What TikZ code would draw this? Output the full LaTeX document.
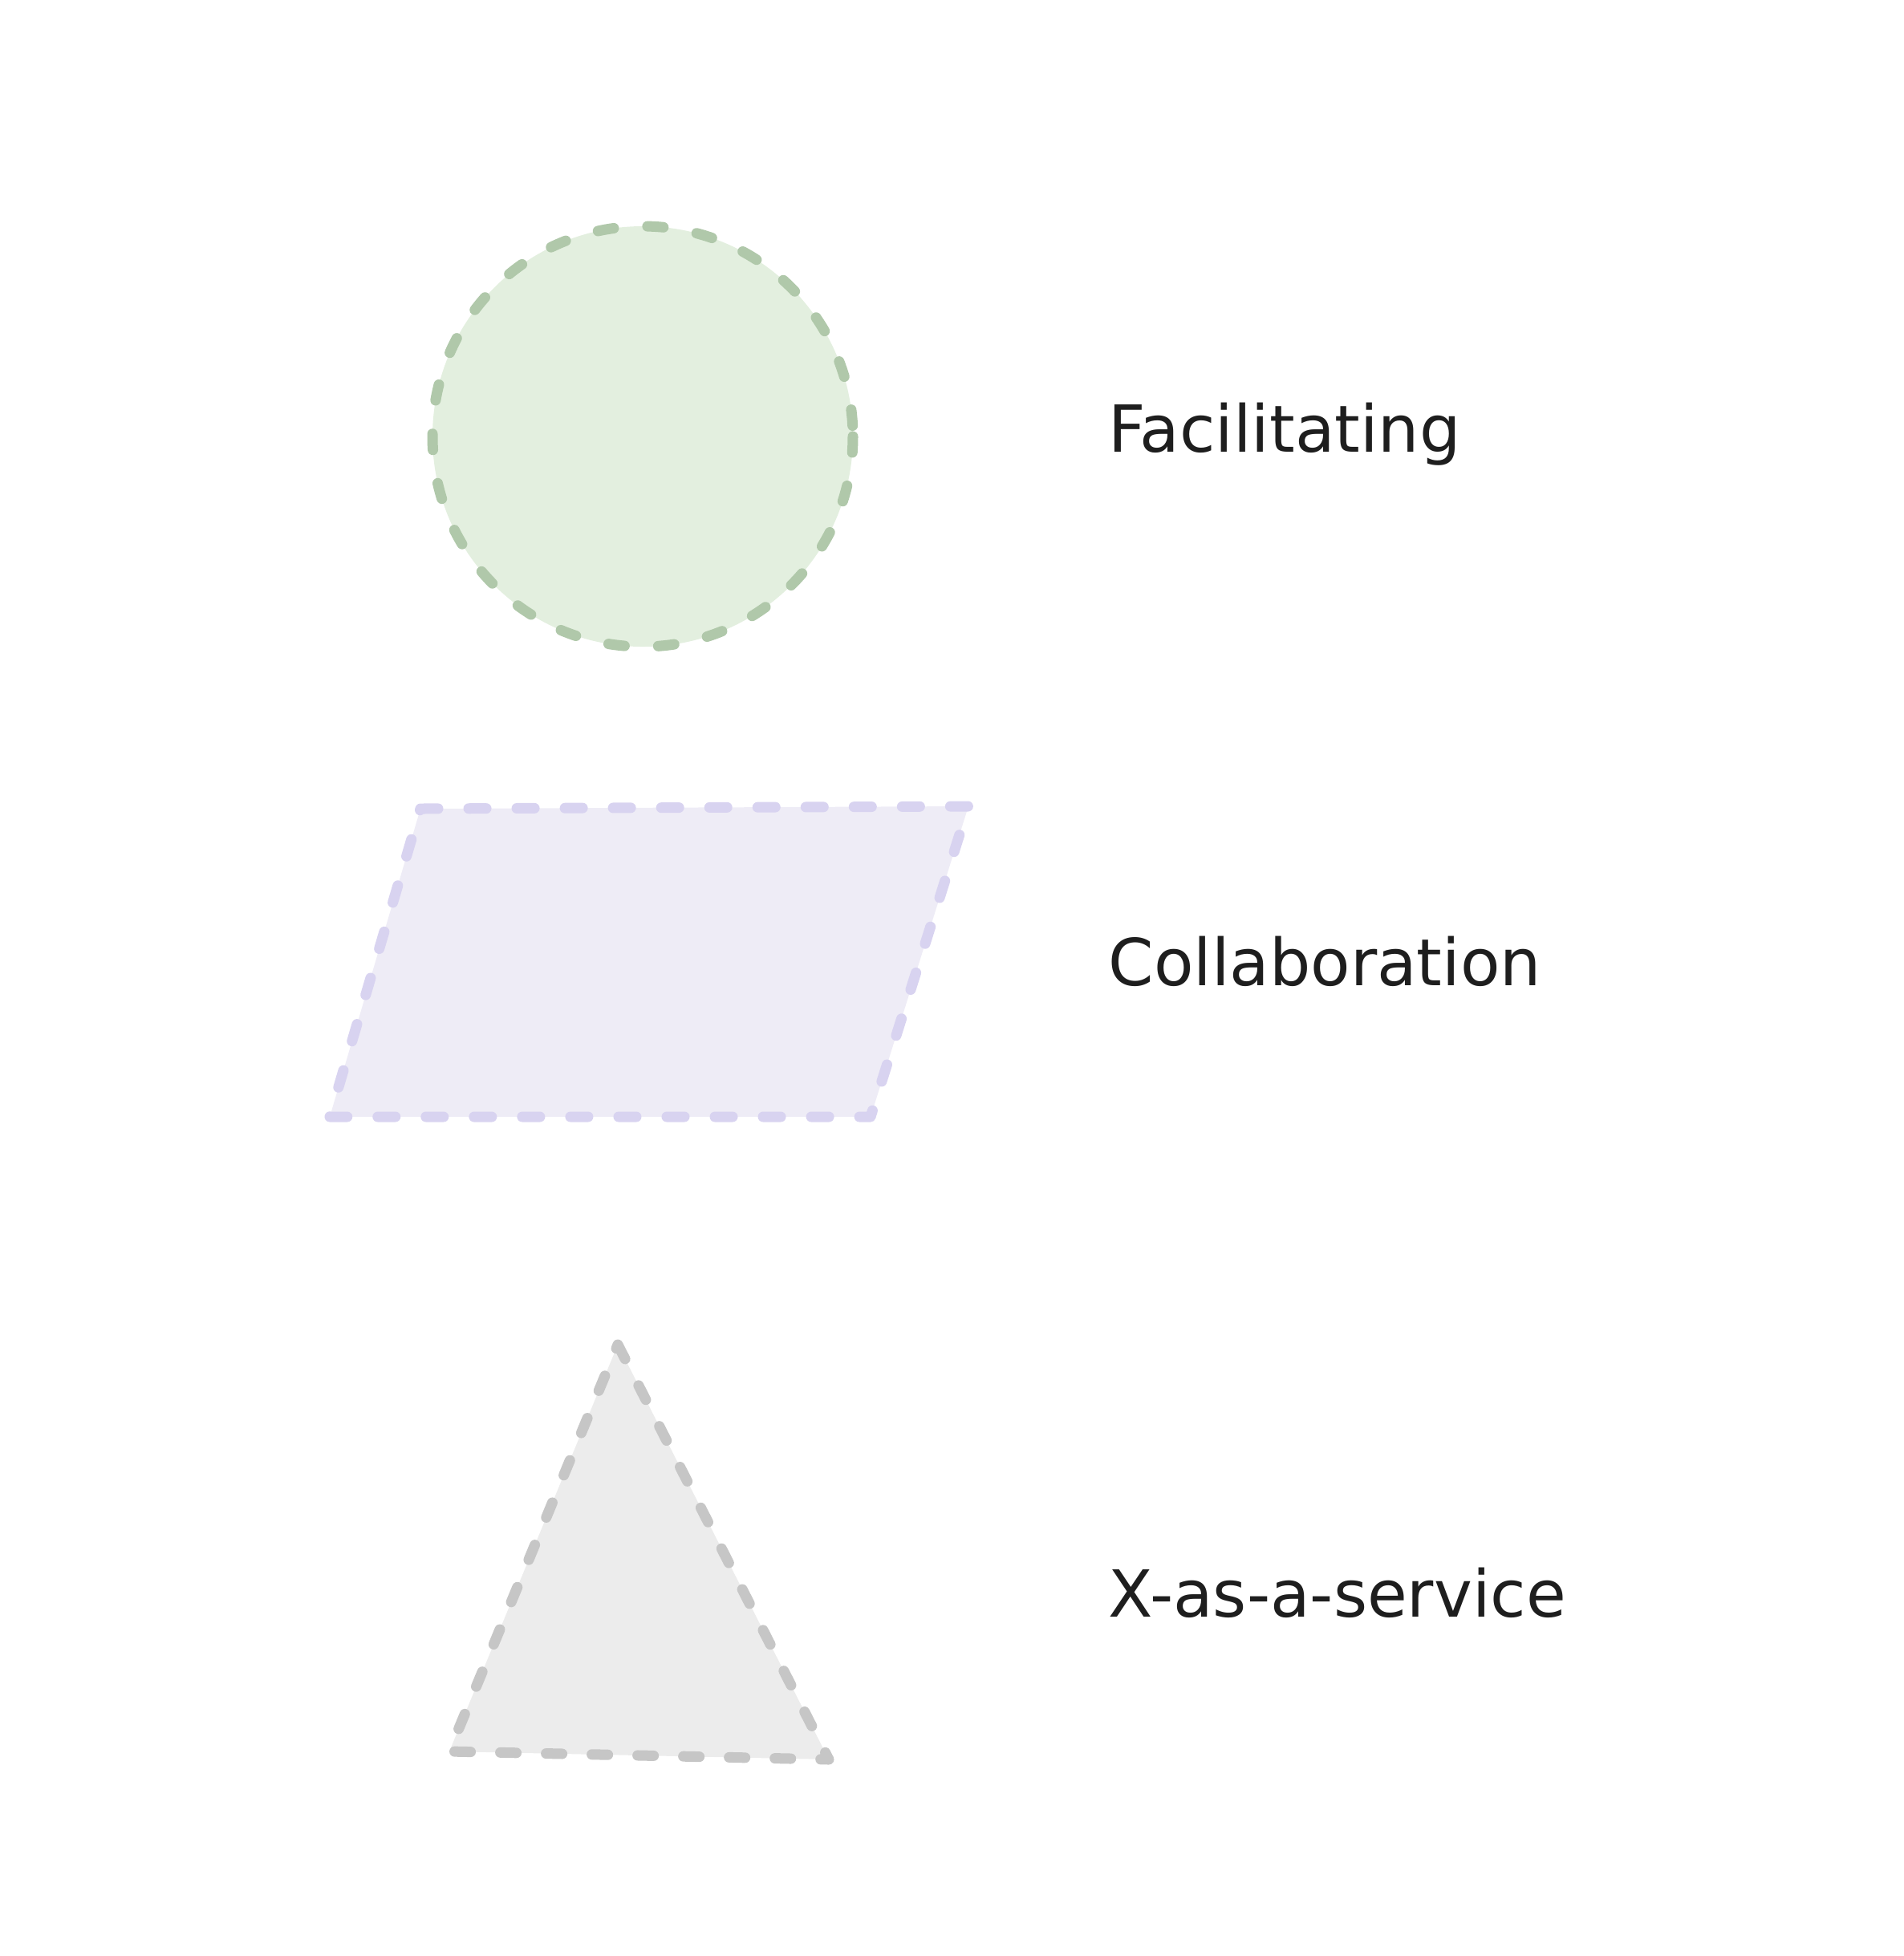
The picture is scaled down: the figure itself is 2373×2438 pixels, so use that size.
\documentclass[tikz,border=0pt]{standalone}
\usepackage{fontspec}
\setmainfont{DejaVu Sans}
\definecolor{gfill}{HTML}{E3EFDF}
\definecolor{gline}{HTML}{B0C8AA}
\definecolor{pfill}{HTML}{EEECF6}
\definecolor{pline}{HTML}{D8D3F0}
\definecolor{tfill}{HTML}{ECECEC}
\definecolor{tline}{HTML}{C6C6C6}
\definecolor{ink}{HTML}{1E1E1E}
\tikzset{
  shapeline/.style={line width=0.13cm, line cap=round, line join=round},
  label/.style={anchor=base west, inner sep=0pt, text=ink, font=\fontsize{23pt}{27pt}\selectfont},
}
\begin{document}
\begin{tikzpicture}[x=0.01cm,y=-0.01cm]
\useasboundingbox (0,0) rectangle (2373,2438);
% circle
\draw[shapeline, fill=gfill, draw=gline, dash pattern=on 0.2cm off 0.42cm] (801,544) circle[radius=262];
% parallelogram
\draw[shapeline, fill=pfill, draw=pline, dash pattern=on 0.22cm off 0.38cm]
  (524,1008) -- (1207,1005) -- (1085,1392) -- (411,1392) -- cycle;
% triangle
\draw[shapeline, fill=tfill, draw=tline, dash pattern=on 0.2cm off 0.37cm]
  (770,1676) -- (1033,2193) -- (560,2183) -- cycle;
\node[label] (fac) at (1381,563) {Facilitating};
\node[label] (col) at (1381,1228) {Collaboration};
\node[label] (xas) at (1381,2015) {X-as-a-service};
\end{tikzpicture}
\end{document}
